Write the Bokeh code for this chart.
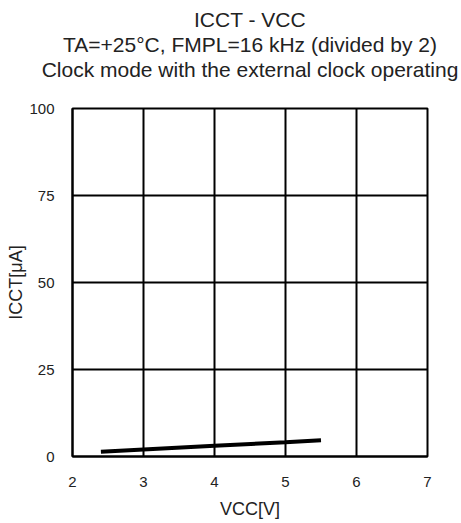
from bokeh.plotting import figure
from bokeh.models import Title, FixedTicker, Range1d
from bokeh.embed import file_html
from bokeh.resources import INLINE

# data
vcc = [2.4, 3.0, 4.0, 5.0, 5.5]
icct = [1.35, 2.0, 3.1, 4.1, 4.7]
x_ticks = [2, 3, 4, 5, 6, 7]
y_ticks = [0, 25, 50, 75, 100]
titles = ["ICCT - VCC",
          "TA=+25°C, FMPL=16 kHz (divided by 2)",
          "Clock mode with the external clock operating"]
x_label = "VCC[V]"
y_label = "ICCT[μA]"

FONT = "Liberation Sans"
TXT = "#222222"

p = figure(width=461, height=523, output_backend="svg", toolbar_location=None,
           x_range=Range1d(2, 7), y_range=Range1d(0, 100),
           min_border_left=72, min_border_right=34, min_border_bottom=67,
           min_border_top=0)

# spacer between titles and frame
p.add_layout(Title(text=" ", text_font_size="23px", standoff=0, offset=0,
                   text_line_height=1.0), "above")
for t in reversed(titles):
    p.add_layout(Title(text=t, align="center", text_font=FONT,
                       text_font_size="21px", text_font_style="normal",
                       text_color=TXT, standoff=0, offset=0,
                       text_line_height=0.92), "above")
# small spacer above the titles
p.add_layout(Title(text=" ", text_font_size="3px", standoff=0, offset=0,
                   text_line_height=1.0), "above")

p.line(vcc, icct, line_color="black", line_width=4)

p.xaxis.ticker = FixedTicker(ticks=x_ticks)
p.yaxis.ticker = FixedTicker(ticks=y_ticks)
for ax in (p.xaxis[0], p.yaxis[0]):
    ax.axis_line_color = "black"
    ax.axis_line_width = 2
    ax.major_tick_line_color = None
    ax.minor_tick_line_color = None
    ax.major_label_text_font = FONT
    ax.major_label_text_font_size = "15px"
    ax.major_label_text_color = TXT
    ax.axis_label_text_font = FONT
    ax.axis_label_text_font_size = "18px"
    ax.axis_label_text_font_style = "normal"
    ax.axis_label_text_color = TXT
p.xaxis.axis_label = x_label
p.yaxis.axis_label = y_label
p.xaxis.major_label_standoff = 14
p.yaxis.major_label_standoff = 12
p.xaxis.axis_label_standoff = 9
p.yaxis.axis_label_standoff = 0

p.xgrid.ticker = FixedTicker(ticks=x_ticks)
p.ygrid.ticker = FixedTicker(ticks=y_ticks)
p.grid.grid_line_color = "black"
p.grid.grid_line_width = 2
p.grid.grid_line_alpha = 1
p.outline_line_color = "black"
p.outline_line_width = 2
p.outline_line_alpha = 1

open("out.html", "w").write(file_html(p, INLINE))
